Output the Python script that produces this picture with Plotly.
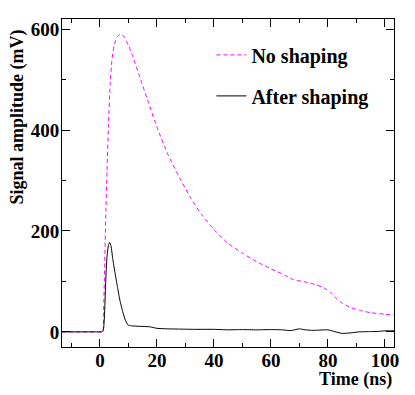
"""Signal amplitude vs time, before and after shaping."""

import plotly.graph_objects as go

# No shaping (magenta dashed)
t_raw = [-13.3, 0, 1.0, 1.3, 1.7, 2.1, 2.5, 3.0, 3.6, 4.2, 5.0, 6.0, 7.2, 8.2,
         10, 11.6, 14, 17, 20, 24, 28, 32, 36, 40, 45, 50, 55, 60, 65, 68,
         72, 76, 79, 81, 83, 85, 88, 91, 95, 100, 103.2]
v_raw = [0, 0, 0, 40, 140, 240, 320, 410, 490, 538, 568, 584, 590, 587,
         568, 545, 505, 455, 406, 350, 305, 264, 230, 203, 175, 156, 139, 125, 112, 103,
         99, 93, 86, 78, 66, 57, 48, 43, 38, 35, 34]

# After shaping (black solid)
t_shaped = [-13.3, 0, 0.8, 1.2, 1.6, 2.0, 2.5, 3.0, 3.4, 3.9, 4.5, 5.3, 6.2, 7.0,
            8.0, 9.0, 9.8, 11, 14, 17.5, 20, 23.5, 28, 33, 40, 45, 50, 55, 60, 64,
            67, 70, 72, 75, 80, 82, 85, 88, 91, 95, 98, 100, 103.2]
v_shaped = [0, 0, 0, 3, 30, 95, 150, 172, 177, 170, 145, 117, 88, 63,
            40, 22, 14, 12, 11, 10, 7, 6, 5.5, 5, 5, 4, 4.5, 4, 4.5, 4,
            2.5, 6, 4, 3, 4, 1, -3, -2, 0, 0.5, 1, 2, 2]

SERIF = "Liberation Serif"

fig = go.Figure()
fig.add_trace(
    go.Scatter(
        x=t_raw,
        y=v_raw,
        mode="lines",
        name="No shaping",
        legendgroup="a",
        line={"color": "#ff00ff", "width": 1, "dash": "4px,3px", "shape": "spline", "smoothing": 0.5},
    )
)
fig.add_trace(
    go.Scatter(
        x=t_shaped,
        y=v_shaped,
        mode="lines",
        name="After shaping",
        legendgroup="b",
        line={"color": "#000000", "width": 1, "shape": "spline", "smoothing": 0.5},
    )
)

axis_common = {
    "showgrid": False,
    "zeroline": False,
    "showline": True,
    "linecolor": "black",
    "linewidth": 1,
    "mirror": "ticks",
    "ticks": "inside",
    "ticklen": 8,
    "tickcolor": "black",
    "tickfont": {"family": SERIF, "size": 19, "color": "black", "weight": "bold"},
}

# page body has an 8px margin, so the figure is sized to fit inside the window
fig.update_layout(
    width=407,
    height=387,
    paper_bgcolor="white",
    plot_bgcolor="white",
    margin={"l": 54, "r": 21, "t": 11, "b": 48},
    xaxis={
        **axis_common,
        "range": [-13.3, 103.2],
        "dtick": 20,
        "tick0": 0,
        "ticklabelstandoff": -4,
        "minor": {"dtick": 10, "ticks": "inside", "ticklen": 4, "tickcolor": "black"},
    },
    yaxis={
        **axis_common,
        "range": [-30, 620],
        "dtick": 200,
        "tick0": 0,
        "ticklabelstandoff": -2,
        "minor": {"dtick": 100, "ticks": "inside", "ticklen": 4, "tickcolor": "black"},
    },
    showlegend=True,
    legend={
        "x": 0.45,
        "y": 0.95,
        "xanchor": "left",
        "yanchor": "top",
        "bgcolor": "rgba(0,0,0,0)",
        "font": {"family": SERIF, "size": 20, "color": "black", "weight": "bold"},
        "traceorder": "grouped",
        "tracegroupgap": 12,
    },
    annotations=[
        {
            "text": "Signal amplitude (mV)",
            "xref": "paper",
            "yref": "paper",
            "x": -0.133,
            "y": 0.975,
            "xanchor": "center",
            "yanchor": "top",
            "textangle": -90,
            "showarrow": False,
            "font": {"family": SERIF, "size": 18, "color": "black", "weight": "bold"},
        },
        {
            "text": "Time (ns)",
            "xref": "paper",
            "yref": "paper",
            "x": 1.0,
            "y": -0.1,
            "xanchor": "right",
            "yanchor": "middle",
            "showarrow": False,
            "font": {"family": SERIF, "size": 18, "color": "black", "weight": "bold"},
        },
    ],
)

fig.write_html("out.html")
